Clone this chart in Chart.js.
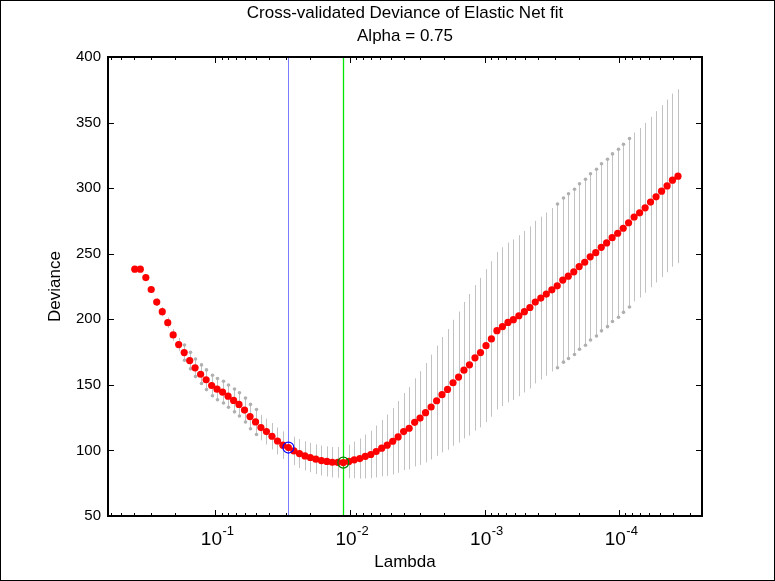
<!DOCTYPE html>
<html>
<head>
<meta charset="utf-8">
<script src="https://cdn.jsdelivr.net/npm/chart.js@4.4.1/dist/chart.umd.min.js"></script>
<style>
    html, body { margin: 0; padding: 0; background: #fff; }
    #wrap { width: 775px; height: 581px; }
</style>
</head>
<body>
<div id="wrap"><canvas id="cvChart" width="775" height="581"></canvas></div>
<script>
// log10(lambda) of each fit, largest lambda first
const lambdaLog10 = [
    -0.401, -0.442, -0.483, -0.523, -0.564, -0.605, -0.646, -0.686, -0.727, -0.768,
    -0.809, -0.849, -0.890, -0.931, -0.972, -1.012, -1.053, -1.094, -1.135, -1.175,
    -1.216, -1.257, -1.298, -1.338, -1.379, -1.420, -1.461, -1.501, -1.542, -1.583,
    -1.624, -1.665, -1.705, -1.746, -1.787, -1.828, -1.868, -1.909, -1.950, -1.991,
    -2.031, -2.072, -2.113, -2.154, -2.194, -2.235, -2.276, -2.317, -2.357, -2.398,
    -2.439, -2.480, -2.520, -2.561, -2.602, -2.643, -2.683, -2.724, -2.765, -2.806,
    -2.846, -2.887, -2.928, -2.969, -3.010, -3.050, -3.091, -3.132, -3.173, -3.213,
    -3.254, -3.295, -3.336, -3.376, -3.417, -3.458, -3.499, -3.539, -3.580, -3.621,
    -3.662, -3.702, -3.743, -3.784, -3.825, -3.866, -3.906, -3.947, -3.988, -4.029,
    -4.069, -4.110, -4.151, -4.192, -4.232, -4.273, -4.314, -4.355, -4.395, -4.436
];

// mean cross-validated deviance
const deviance = [
    238.2, 238.2, 231.8, 222.7, 213.1, 205.8, 197.4, 188.1, 180.7, 174.6,
    168.5, 163.0, 158.1, 153.9, 149.5, 146.7, 144.5, 141.4, 138.1, 135.1,
    130.8, 125.8, 121.7, 117.4, 114.4, 110.8, 107.2, 104.0, 102.2, 99.6,
    97.6, 95.8, 94.6, 93.3, 92.3, 91.6, 91.0, 90.9, 90.7, 91.6,
    92.8, 93.8, 95.4, 96.9, 99.2, 101.7, 104.0, 107.0, 110.3, 114.4,
    116.9, 121.4, 124.7, 128.8, 133.1, 137.9, 142.5, 146.5, 151.6, 155.9,
    161.2, 165.3, 170.6, 174.6, 179.9, 185.0, 191.3, 194.4, 197.6, 199.7,
    202.7, 205.8, 209.0, 213.1, 216.2, 219.2, 222.5, 225.5, 229.9, 232.9,
    236.2, 240.2, 243.5, 247.6, 250.8, 254.9, 258.2, 262.2, 265.6, 269.4,
    273.6, 278.0, 281.2, 285.0, 289.4, 293.4, 297.7, 301.7, 306.1, 309.1
];

// standard error of the deviance (half length of each error bar)
const devianceSE = [
    1.5, 1.5, 2.0, 2.5, 3.0, 3.5, 4.0, 4.5, 5.0, 5.8,
    6.3, 6.7, 7.1, 7.5, 7.8, 8.1, 8.3, 8.5, 8.7, 8.9,
    9.1, 9.3, 9.5, 9.7, 9.9, 10.1, 10.3, 10.5, 10.7, 10.9,
    11.0, 11.1, 11.2, 11.3, 11.4, 11.5, 11.6, 11.7, 11.8, 12.8,
    14.0, 15.3, 16.7, 18.1, 19.8, 21.5, 23.4, 25.3, 27.4, 29.4,
    31.4, 33.6, 35.7, 37.9, 40.0, 42.0, 44.0, 46.0, 48.0, 50.0,
    52.0, 54.0, 55.5, 57.0, 58.3, 59.3, 60.0, 60.5, 60.9, 61.2,
    61.4, 61.6, 61.8, 62.0, 62.1, 62.2, 62.3, 62.4, 62.6, 62.8,
    63.0, 63.1, 63.3, 63.4, 63.6, 63.7, 63.8, 63.9, 64.0, 64.1,
    64.2, 64.4, 64.6, 64.8, 65.0, 65.3, 65.5, 65.8, 66.0, 66.3
];

const oneSEIndex = 28;   // blue circle / line
const minDevIndex = 38;  // green circle / line

const xTickValues = [1e-1, 1e-2, 1e-3, 1e-4];
const yTickValues = [50, 100, 150, 200, 250, 300, 350, 400];
const chartTitle = ["Cross-validated Deviance of Elastic Net fit", "Alpha = 0.75"];
const xLabel = "Lambda";
const yLabel = "Deviance";

const lambda = lambdaLog10.map(v => Math.pow(10, v));
const FONT = "'Liberation Sans', Arial, Helvetica, sans-serif";

// error bars, cv lines, matlab-style box with inward ticks, 10^n exponents
const matlabAxes = {
    id: "matlabAxes",
    beforeDatasetsDraw(chart, args, opts) {
        const {ctx, chartArea: a, scales: {x, y}} = chart;
        ctx.save();
        ctx.lineWidth = 1;

        // error bars
        ctx.strokeStyle = "#c2c2c2";
        lambda.forEach((l, i) => {
            const px = Math.round(x.getPixelForValue(l)) + 0.5;
            const top = y.getPixelForValue(deviance[i] + devianceSE[i]);
            const bot = y.getPixelForValue(deviance[i] - devianceSE[i]);
            ctx.beginPath();
            ctx.moveTo(px, top);
            ctx.lineTo(px, bot);
            ctx.stroke();
        });

        // little caps that show up as dots on some bars
        ctx.fillStyle = "#b0b0b0";
        opts.capRanges.forEach(([from, to]) => {
            for (let i = from; i <= to; i++) {
                const px = Math.round(x.getPixelForValue(lambda[i])) + 0.5;
                [deviance[i] + devianceSE[i], deviance[i] - devianceSE[i]].forEach(v => {
                    ctx.beginPath();
                    ctx.arc(px, y.getPixelForValue(v), 1.8, 0, Math.PI * 2);
                    ctx.fill();
                });
            }
        });

        // vertical lines at the two chosen lambdas
        [[oneSEIndex, "#7b7bff", 1], [minDevIndex, "#00e600", 1.3]].forEach(([i, c, w]) => {
            const px = Math.round(x.getPixelForValue(lambda[i])) + 0.5;
            ctx.strokeStyle = c;
            ctx.lineWidth = w;
            ctx.beginPath();
            ctx.moveTo(px, a.top);
            ctx.lineTo(px, a.bottom);
            ctx.stroke();
        });
        ctx.restore();
    },
    afterDraw(chart) {
        const {ctx, chartArea: a, scales: {x, y}} = chart;
        ctx.save();
        ctx.strokeStyle = "#000";

        // ticks
        ctx.lineWidth = 1;
        ctx.beginPath();
        yTickValues.forEach(v => {
            const py = Math.round(y.getPixelForValue(v)) + 0.5;
            ctx.moveTo(a.left, py); ctx.lineTo(a.left + 6, py);
            ctx.moveTo(a.right, py); ctx.lineTo(a.right - 6, py);
        });
        for (let e = -6; e <= 0; e++) {
            for (let k = 1; k <= 9; k++) {
                const v = k * Math.pow(10, e);
                if (v < x.min || v > x.max) continue;
                const px = Math.round(x.getPixelForValue(v)) + 0.5;
                const len = k === 1 ? 6 : 3;
                ctx.moveTo(px, a.bottom); ctx.lineTo(px, a.bottom - len);
                ctx.moveTo(px, a.top); ctx.lineTo(px, a.top + len);
            }
        }
        ctx.stroke();

        // axes box
        ctx.lineWidth = 2;
        ctx.strokeRect(a.left, a.top, a.right - a.left, a.bottom - a.top);

        // exponents of the 10^n labels
        const base = x.options.ticks;
        ctx.fillStyle = "#000";
        ctx.textAlign = "left";
        ctx.textBaseline = "alphabetic";
        ctx.font = `${base.font.size}px ${FONT}`;
        const w10 = ctx.measureText("10").width;
        ctx.font = `13px ${FONT}`;
        xTickValues.forEach(v => {
            const px = x.getPixelForValue(v) + base.labelOffset;
            ctx.fillText(String(Math.round(Math.log10(v))), px + w10 / 2 + 0.5, 535);
        });

        // figure frame
        ctx.lineWidth = 1;
        ctx.strokeRect(0.5, 0.5, chart.width - 1, chart.height - 1);
        ctx.restore();
    }
};

const ctx = document.getElementById("cvChart").getContext("2d");

new Chart(ctx, {
    type: "scatter",
    data: {
        datasets: [
            {
                label: "Lambda 1SE",
                data: [{x: lambda[oneSEIndex], y: deviance[oneSEIndex]}],
                pointRadius: 5.5,
                pointBackgroundColor: "rgba(0,0,0,0)",
                pointBorderColor: "#0000ff",
                pointBorderWidth: 1.2
            },
            {
                label: "Lambda min deviance",
                data: [{x: lambda[minDevIndex], y: deviance[minDevIndex]}],
                pointRadius: 5.5,
                pointBackgroundColor: "rgba(0,0,0,0)",
                pointBorderColor: "#008000",
                pointBorderWidth: 1.2
            },
            {
                label: "Deviance",
                data: lambda.map((l, i) => ({x: l, y: deviance[i]})),
                pointRadius: 3.6,
                pointBackgroundColor: "#ff0000",
                pointBorderWidth: 0
            }
        ]
    },
    options: {
        responsive: false,
        animation: false,
        events: [],
        layout: { padding: { left: 0, right: 73, top: 0, bottom: 0 } },
        plugins: {
            legend: { display: false },
            tooltip: { enabled: false },
            title: {
                display: true,
                text: chartTitle,
                fullSize: false,
                color: "#000",
                font: { family: FONT, size: 17, weight: "normal", lineHeight: 1.35 },
                padding: { top: 2, bottom: 9.1 }
            },
            matlabAxes: { capRanges: [[9, 22], [77, 90]] }
        },
        scales: {
            x: {
                type: "logarithmic",
                reverse: true,
                min: 2.43e-5,
                max: 0.628,
                bounds: "data",
                grid: { display: false, drawTicks: false },
                border: { display: false },
                afterBuildTicks: s => { s.ticks = xTickValues.map(v => ({value: v})); },
                afterFit: s => { s.height = 65; },
                ticks: {
                    autoSkip: false,
                    maxRotation: 0,
                    padding: 12,
                    labelOffset: -4,
                    color: "#000",
                    font: { family: FONT, size: 19 },
                    callback: () => "10"
                },
                title: {
                    display: true,
                    text: xLabel,
                    color: "#000",
                    font: { family: FONT, size: 17 },
                    padding: { top: 0, bottom: 8 }
                }
            },
            y: {
                min: 50,
                max: 400,
                grid: { display: false, drawTicks: false },
                border: { display: false },
                afterFit: s => { s.width = 108; },
                ticks: {
                    stepSize: 50,
                    padding: 7,
                    color: "#000",
                    font: { family: FONT, size: 15 }
                },
                title: {
                    display: true,
                    text: yLabel,
                    color: "#000",
                    font: { family: FONT, size: 17 },
                    padding: { top: 45, bottom: 0 }
                }
            }
        }
    },
    plugins: [matlabAxes]
});
</script>
</body>
</html>
